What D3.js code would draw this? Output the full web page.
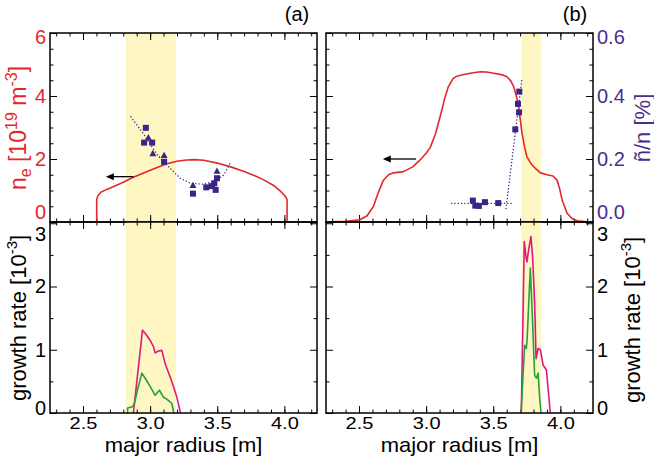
<!DOCTYPE html>
<html><head><meta charset="utf-8">
<script src="https://cdn.jsdelivr.net/npm/d3@7"></script>
<style>body{margin:0;background:#fff}svg{display:block}text{font-family:"Liberation Sans",Arial,Helvetica,sans-serif}</style>
</head><body><svg id="c" width="654" height="457"></svg>
<script>
// ---------- data ----------
const xTicks=[2.5,3.0,3.5,4.0];
const neTicks=[0,2,4,6];
const flTicks=[0.0,0.2,0.4,0.6];
const grTicks=[0,1,2,3];
const panelLabels=["(a)","(b)"];
const bandA=[2.82,3.19];
const bandB=[3.71,3.855];
const neA=[[2.602,0],[2.602,0.72],[2.612,0.84],[2.635,0.95],[2.67,1.02],[2.70,1.07],[2.80,1.26],[2.875,1.42],[3.0,1.64],[3.124,1.85],[3.2,1.93],[3.27,1.97],[3.33,1.98],[3.40,1.96],[3.50,1.87],[3.60,1.75],[3.70,1.6],[3.78,1.47],[3.85,1.33],[3.92,1.16],[3.97,0.98],[4.0,0.85],[4.015,0.76],[4.02,0.7],[4.02,0]];
const neB=[[2.284,0.01],[2.40,0.02],[2.507,0.07],[2.56,0.2],[2.607,0.49],[2.645,0.95],[2.681,1.32],[2.72,1.5],[2.756,1.56],[2.831,1.6],[2.90,1.75],[2.955,1.97],[3.0,2.18],[3.03,2.36],[3.07,2.8],[3.104,3.34],[3.14,3.95],[3.166,4.3],[3.2,4.55],[3.229,4.63],[3.28,4.68],[3.328,4.72],[3.403,4.77],[3.45,4.76],[3.502,4.72],[3.57,4.67],[3.602,4.61],[3.63,4.48],[3.652,4.3],[3.672,4.0],[3.689,3.66],[3.714,2.82],[3.735,2.35],[3.751,2.07],[3.78,1.86],[3.80,1.76],[3.851,1.56],[3.90,1.5],[3.945,1.46],[3.975,1.33],[3.995,1.05],[4.013,0.70],[4.05,0.28],[4.09,0.1],[4.125,0.04],[4.20,0.01]];
const flucASq=[[2.968,0.299],[2.955,0.252],[3.015,0.252],[3.104,0.191],[3.319,0.090],[3.418,0.110],[3.46,0.114],[3.478,0.123],[3.498,0.139],[3.488,0.102]];
const flucATri=[[2.987,0.268],[3.02,0.218],[3.104,0.212],[3.319,0.117],[3.498,0.162]];
const fitA=[[2.856,0.334],[2.95,0.28],[3.05,0.215],[3.124,0.181],[3.224,0.139],[3.30,0.123],[3.40,0.12],[3.48,0.13],[3.548,0.149],[3.597,0.188]];
const flucBSq=[[3.694,0.414],[3.684,0.375],[3.692,0.348],[3.664,0.294],[3.348,0.068],[3.366,0.052],[3.393,0.051],[3.438,0.063],[3.537,0.06]];
const fitB1=[[3.19,0.059],[3.647,0.059]];
const fitB2=[[3.595,0.043],[3.714,0.456]];
const arrowA=[[2.875,1.44],[2.67,1.44]];
const arrowB=[[2.925,2.0],[2.677,2.0]];
const grAmag=[[2.875,0],[2.943,1.31],[2.97,1.24],[3.0,1.15],[3.025,1.05],[3.037,0.95],[3.062,0.98],[3.087,0.99],[3.112,0.78],[3.149,0.57],[3.174,0.42],[3.20,0.24],[3.226,0]];
const grAgrn=[[2.832,0],[2.832,0.08],[2.868,0.10],[2.883,0.15],[2.905,0.36],[2.938,0.63],[2.963,0.55],[3.0,0.42],[3.037,0.28],[3.069,0.36],[3.099,0.25],[3.124,0.22],[3.162,0.15],[3.174,0.02],[3.176,0]];
const grBmag=[[3.709,0],[3.731,2.71],[3.745,2.45],[3.751,2.39],[3.765,2.6],[3.781,2.79],[3.793,2.47],[3.808,1.76],[3.819,0.86],[3.834,1.02],[3.851,1.0],[3.871,0.76],[3.896,0.68],[3.925,0]];
const grBgrn=[[3.707,0],[3.734,1.07],[3.746,1.02],[3.752,1.15],[3.776,2.29],[3.789,1.65],[3.808,0.60],[3.821,0.55],[3.834,0.63],[3.846,0.23],[3.856,0]];

// ---------- layout ----------
const RED="#e3282b",PUR="#3b2486",PURT="#4a2d8f",MAG="#e0177f",GRN="#22a33a",YEL="#fef6c3";
const svg=d3.select("#c");
const cols=[50,326], W=267, yT=33, yM=222, yB=413;
const Ht=yM-yT, Hb=yB-yM;
const x=d3.scaleLinear().domain([2.254,4.243]).range([0,W]);
const yNe=d3.scaleLinear().domain([0,6]).range([Ht,0]);
const yFl=d3.scaleLinear().domain([0,0.6]).range([Ht,0]);
const yGr=d3.scaleLinear().domain([0,3.02]).range([Hb,0]);
const xMinor=d3.range(23,43).map(d=>d/10);

function axis(g,gen,tf){
  const a=g.append("g").attr("transform",tf||null).call(gen);
  a.select(".domain").remove();
  a.selectAll("line").attr("stroke","#000").attr("stroke-width",1);
  a.selectAll("text").attr("font-size",20).attr("font-family",'"Liberation Sans",Arial,sans-serif');
  return a;
}
function ticksBox(g,h,y,maj,min,leftLab,rightLab,xLab,fmt,col){
  axis(g,d3.axisBottom(x).tickValues(xTicks).tickSize(-7).tickFormat(xLab?d3.format(".1f"):""),`translate(0,${h})`)
    .selectAll("text").attr("fill","#000").attr("dy","0").attr("y",16).attr("font-size",16)
    .attr("transform","scale(1.25,1)");
  axis(g,d3.axisBottom(x).tickValues(xMinor).tickSize(-3.5).tickFormat(""),`translate(0,${h})`);
  axis(g,d3.axisTop(x).tickValues(xTicks).tickSize(-7).tickFormat(""));
  axis(g,d3.axisTop(x).tickValues(xMinor).tickSize(-3.5).tickFormat(""));
  const L=axis(g,d3.axisLeft(y).tickValues(maj).tickSize(-7).tickPadding(4).tickFormat(leftLab?fmt:""));
  axis(g,d3.axisLeft(y).tickValues(min).tickSize(-3.5).tickFormat(""));
  const R=axis(g,d3.axisRight(y).tickValues(maj).tickSize(-7).tickPadding(4).tickFormat(rightLab?fmt:""),`translate(${W},0)`);
  axis(g,d3.axisRight(y).tickValues(min).tickSize(-3.5).tickFormat(""),`translate(${W},0)`);
  [L,R].forEach(a=>a.selectAll("text").attr("fill",col));
  return [L,R];
}
function line(g,data,xs,ys,color,w,dash){
  g.append("path").datum(data).attr("d",d3.line().x(d=>xs(d[0])).y(d=>ys(d[1])))
   .attr("fill","none").attr("stroke",color).attr("stroke-width",w||1.5)
   .attr("stroke-dasharray",dash||null).attr("stroke-linecap",dash?"round":"butt").attr("stroke-linejoin","round");
}
function arrow(g,a,ys){
  const x0=x(a[0][0]),x1=x(a[1][0]),yy=ys(a[0][1]);
  g.append("line").attr("x1",x0).attr("x2",x1+6).attr("y1",yy).attr("y2",yy).attr("stroke","#000").attr("stroke-width",1.3);
  g.append("path").attr("d",`M${x1},${yy}L${x1+8},${yy-3.5}L${x1+8},${yy+3.5}Z`).attr("fill","#000");
}
function squares(g,data,ys){
  g.selectAll(null).data(data).enter().append("rect").attr("x",d=>x(d[0])-3).attr("y",d=>ys(d[1])-3).attr("width",6).attr("height",6).attr("fill",PUR);
}
function tris(g,data,ys){
  g.selectAll(null).data(data).enter().append("path").attr("d",d=>{const cx=x(d[0]),cy=ys(d[1]);return `M${cx},${cy-3.5}L${cx+3.5},${cy+2.8}L${cx-3.5},${cy+2.8}Z`;}).attr("fill",PUR);
}

const bands=[bandA,bandB];
const neData=[neA,neB];
const arrows=[arrowA,arrowB];
const grMag=[grAmag,grBmag], grGrn=[grAgrn,grBgrn];
const labelX=[297,575];
const fmtInt=d3.format("d"), fmt1=d3.format(".1f");

cols.forEach((x0,i)=>{
  const gt=svg.append("g").attr("transform",`translate(${x0},${yT})`);
  const gb=svg.append("g").attr("transform",`translate(${x0},${yM})`);
  const b=bands[i];
  gt.append("rect").attr("x",x(b[0])).attr("width",x(b[1])-x(b[0])).attr("y",0).attr("height",Ht).attr("fill",YEL);
  gb.append("rect").attr("x",x(b[0])).attr("width",x(b[1])-x(b[0])).attr("y",0).attr("height",Hb).attr("fill",YEL);
  const tNe=d3.range(0,13).map(d=>d*0.5);
  const [Lt,Rt]=ticksBox(gt,Ht,i===0?yNe:yFl,i===0?neTicks:flTicks,i===0?tNe:d3.range(0,13).map(d=>d*0.05),i===0,i===1,false,i===0?fmtInt:fmt1,i===0?RED:PURT);
  const [Lb,Rb]=ticksBox(gb,Hb,yGr,grTicks,[0.5,1.5,2.5],i===0,i===1,true,fmtInt,"#000");
  [Lt,Rt].forEach(a=>a.selectAll("text").attr("y",d=>d===0?-10:(d===6||Math.abs(d-0.6)<1e-9)?4:0));
  [Lb,Rb].forEach(a=>a.selectAll("text").attr("y",d=>d===0?-5:d===3?11:0));
  line(gt,neData[i],x,yNe,RED,1.6);
  arrow(gt,arrows[i],yNe);
  if(i===0){
    line(gt,fitA,x,yFl,PUR,1.4,"0.1,3.2");
    squares(gt,flucASq,yFl); tris(gt,flucATri,yFl);
  } else {
    line(gt,fitB1,x,yFl,PUR,1.4,"0.1,3.2");
    line(gt,fitB2,x,yFl,PUR,1.4,"0.1,3.2");
    squares(gt,flucBSq,yFl);
  }
  line(gb,grMag[i],x,yGr,MAG,1.6);
  line(gb,grGrn[i],x,yGr,GRN,1.6);
  gt.append("rect").attr("width",W).attr("height",Ht).attr("fill","none").attr("stroke","#000").attr("stroke-width",1.5);
  gb.append("rect").attr("width",W).attr("height",Hb).attr("fill","none").attr("stroke","#000").attr("stroke-width",1.5);
  svg.append("text").attr("x",x0+W/2).attr("y",452).attr("text-anchor","middle").attr("font-size",20)
    .attr("transform",`translate(${x0+W/2},0) scale(1.1,1) translate(${-(x0+W/2)},0)`).text("major radius [m]");
  svg.append("text").attr("x",labelX[i]).attr("y",21).attr("text-anchor","middle").attr("font-size",20).text(panelLabels[i]);
});

function sup(t,parts,sz){
  parts.forEach(p=>{
    const ts=t.append("tspan").text(p.t);
    if(p.s) ts.attr("font-size",sz);
    if(p.dy) ts.attr("dy",p.dy);
  });
}
let t=svg.append("text").attr("transform","translate(26,128) rotate(-90)").attr("text-anchor","middle").attr("font-size",23).attr("fill",RED);
sup(t,[{t:"n"},{t:"e",s:1,dy:5},{t:" [10",dy:-5},{t:"19",s:1,dy:-9},{t:" m",dy:9},{t:"-3",s:1,dy:-9},{t:"]",dy:9}],16);
t=svg.append("text").attr("transform","translate(26,318) rotate(-90)").attr("text-anchor","middle").attr("font-size",22);
sup(t,[{t:"growth rate [10"},{t:"-3",s:1,dy:-9},{t:"]",dy:9}],15);
t=svg.append("text").attr("transform","translate(640,320) rotate(-90)").attr("text-anchor","middle").attr("font-size",22);
sup(t,[{t:"growth rate [10"},{t:"-3",s:1,dy:-9},{t:"]",dy:9}],15);
svg.append("text").attr("transform","translate(650,128) rotate(-90)").attr("text-anchor","middle").attr("font-size",22).attr("fill",PURT).text("ñ/n [%]");
</script></body></html>
